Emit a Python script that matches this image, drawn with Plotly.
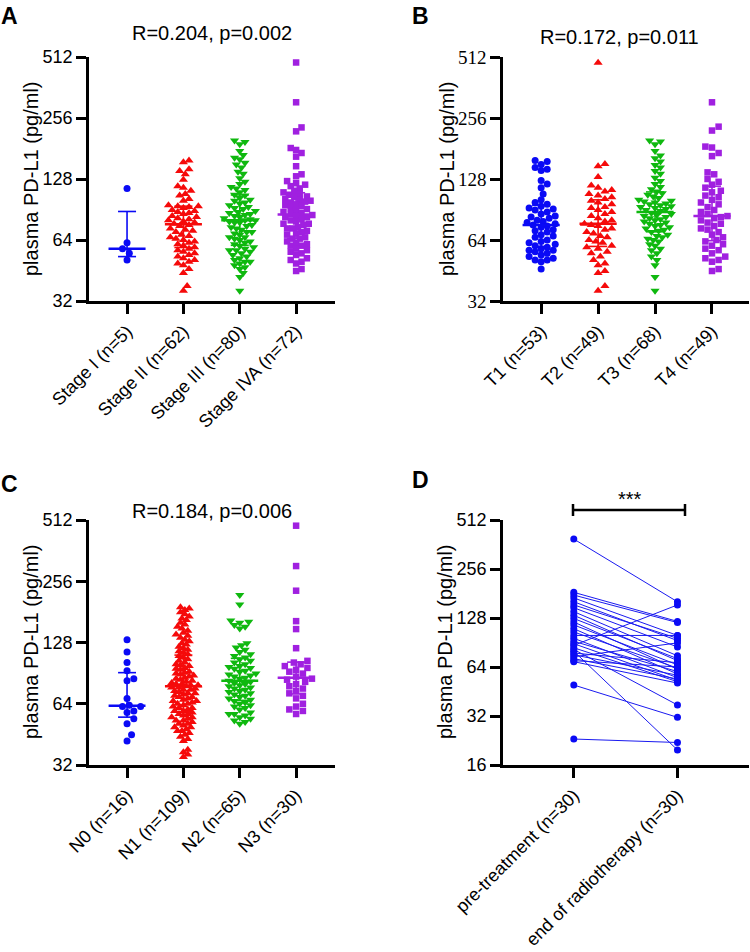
import numpy as np
import plotly.graph_objects as go

W, H = 750, 952

# ---- panel A: clinical stage ----
stage_labels = ["Stage I (n=5)", "Stage II (n=62)", "Stage III (n=80)", "Stage IVA (n=72)"]
stage_i = [115, 62, 58, 55, 51]
stage_ii = [158, 155, 143, 140, 135, 127, 118, 116, 112, 108, 106, 102, 100, 95, 94, 94, 93, 92, 90, 89,
            88, 87, 86, 84, 83, 82, 81, 80, 79, 78, 77, 76, 75, 73, 72, 71, 70, 68, 67, 66,
            65, 64, 63, 62, 61, 60, 59, 58, 57, 56, 55, 54, 53, 52, 51, 50, 49, 48, 46, 44, 38, 36]
stage_iii = [198, 195, 190, 176, 168, 163, 160, 154, 151, 146, 139, 136, 129, 124, 121, 117, 115, 113, 110, 107,
             106, 103, 101, 100, 98, 97, 95, 93, 92, 91, 89, 88, 87, 86, 85, 84, 83, 82, 81, 80,
             80, 79, 78, 78, 76, 75, 74, 73, 72, 70, 70, 69, 68, 66, 66, 65, 64, 63, 62, 61,
             60, 59, 58, 57, 57, 56, 55, 54, 53, 52, 51, 50, 50, 49, 48, 47, 46, 44, 42, 36]
stage_iva = [481, 306, 230, 220, 182, 178, 172, 165, 148, 135, 132, 125, 122, 120, 118, 115, 112, 110, 108, 107,
             105, 104, 102, 101, 100, 99, 98, 96, 95, 94, 92, 91, 90, 88, 87, 86, 85, 84, 83, 83,
             81, 80, 79, 77, 77, 76, 74, 73, 73, 71, 70, 69, 68, 66, 65, 65, 63, 62, 61, 60,
             60, 58, 57, 56, 55, 54, 52, 51, 50, 49, 46, 45]

# ---- panel B: T stage ----
t_labels = ["T1 (n=53)", "T2 (n=49)", "T3 (n=68)", "T4 (n=49)"]
t1 = [158, 156, 151, 146, 143, 141, 126, 121, 116, 108, 101, 98, 96, 94, 92, 91, 90, 88, 86, 84,
      83, 82, 80, 79, 78, 77, 76, 75, 74, 72, 71, 70, 68, 67, 66, 64, 63, 62, 61, 60,
      59, 58, 57, 57, 56, 55, 54, 53, 52, 51, 51, 50, 46]
t2 = [480, 152, 148, 131, 119, 116, 113, 111, 108, 106, 104, 102, 100, 98, 96, 93, 92, 90, 88, 86,
      84, 82, 80, 79, 77, 76, 75, 73, 72, 70, 69, 67, 66, 64, 63, 62, 60, 59, 58, 56,
      55, 53, 51, 49, 48, 45, 44, 38, 36]
t3 = [198, 196, 190, 176, 167, 162, 156, 150, 146, 140, 136, 130, 125, 121, 117, 114, 111, 109, 107, 105,
      103, 101, 100, 99, 98, 97, 96, 95, 94, 93, 92, 91, 90, 89, 87, 86, 85, 84, 83, 82,
      81, 80, 79, 78, 77, 76, 75, 74, 73, 72, 71, 70, 68, 67, 66, 65, 64, 63, 61, 60,
      58, 57, 55, 53, 51, 48, 42, 36]
t4 = [306, 232, 222, 185, 183, 172, 166, 138, 135, 128, 124, 120, 116, 112, 110, 106, 104, 101, 98, 96,
      93, 90, 88, 86, 84, 83, 82, 80, 78, 77, 75, 73, 72, 70, 68, 66, 64, 63, 61, 60,
      58, 57, 55, 53, 52, 51, 50, 46, 45]

# ---- panel C: N stage ----
n_labels = ["N0 (n=16)", "N1 (n=109)", "N2 (n=65)", "N3 (n=30)"]
n0 = [132, 115, 102, 93, 85, 83, 68, 63, 62, 62, 59, 58, 54, 51, 45, 42]
n1 = [191, 188, 185, 180, 176, 172, 168, 165, 160, 157, 153, 150, 146, 143, 140, 138, 135, 132, 130, 127,
      125, 122, 120, 118, 116, 114, 112, 110, 108, 106, 104, 102, 100, 99, 98, 96, 95, 94, 92, 91,
      90, 89, 88, 87, 86, 85, 84, 83, 82, 81, 80, 80, 79, 79, 78, 77, 77, 76, 75, 75,
      74, 73, 72, 72, 71, 70, 69, 69, 68, 67, 66, 66, 65, 64, 64, 63, 62, 61, 61, 60,
      59, 59, 58, 57, 57, 56, 55, 55, 54, 53, 53, 52, 51, 51, 50, 49, 49, 48, 47, 47,
      46, 45, 44, 43, 42, 38, 37, 36, 35]
n2 = [219, 197, 164, 162, 160, 156, 153, 150, 127, 124, 121, 118, 115, 112, 110, 108, 106, 104, 102, 100,
      98, 97, 96, 95, 93, 92, 90, 89, 88, 87, 86, 85, 83, 82, 81, 80, 79, 78, 77, 76,
      75, 74, 73, 72, 71, 70, 69, 68, 67, 66, 65, 64, 63, 62, 61, 60, 58, 57, 57, 56,
      55, 54, 53, 52, 51]
n3 = [480, 304, 230, 163, 149, 120, 104, 102, 100, 98, 96, 94, 92, 90, 87, 85, 84, 82, 80, 78,
      76, 74, 72, 70, 68, 64, 62, 60, 59, 57]

# ---- panel D: paired samples ----
d_labels = ["pre-treatment (n=30)", "end of radiotherapy (n=30)"]
pre = [391, 184, 177, 170, 161, 154, 148, 140, 133, 127, 121, 116, 110, 105, 100,
       96, 92, 89, 87, 84, 82, 80, 78, 76, 74, 72, 70, 69, 49.6, 23.1]
post = [161, 122, 120, 100, 93, 96, 85, 75, 70, 72, 62, 66, 58, 63, 100,
        55, 60, 53, 154, 52, 37.4, 19.8, 68, 57, 90, 54, 64, 51, 31.4, 22.0]

colors = ["#0a0af5", "#f50a0a", "#0fb80f", "#a020e0"]
symbols = ["circle", "triangle-up", "triangle-down", "square"]
sizes = [7, 8, 8, 6.5]
FONT = "Liberation Sans, Arial, sans-serif"


def xd(a, b):
    return [a / W, b / W]


def yd(top, bottom):
    return [1 - bottom / H, 1 - top / H]


def swarm_px(ys, dot):
    xs = np.zeros(len(ys))
    placed = []
    step = dot / 3
    for i in np.argsort(ys):
        y = ys[i]
        near = [(px, py) for px, py in placed if abs(py - y) < dot]
        for k in range(400):
            off = ((k + 1) // 2) * step * (1 if k % 2 else -1)
            if all((off - px) ** 2 + (y - py) ** 2 >= dot ** 2 for px, py in near):
                break
        placed.append((off, y))
        xs[i] = off
    return xs


def swarm(vals, ppo, ppu, max_half=16.5):
    # beeswarm in pixel space, squeezed so each column stays about 38 px wide
    ys = np.log2(np.array(vals, float)) * ppo
    dot = 6.8
    while True:
        xs = swarm_px(ys, dot)
        if np.abs(xs).max() <= max_half or dot < 3:
            break
        dot -= 0.2
    return xs / ppu


fig = go.Figure()

panels = [
    ("x", "y", [stage_i, stage_ii, stage_iii, stage_iva], 61, 56.3),
    ("x2", "y2", [t1, t2, t3, t4], 61, 56.7),
    ("x3", "y3", [n0, n1, n2, n3], 61.25, 56.5),
]

for xa, ya, groups, ppo, ppu in panels:
    for g, vals in enumerate(groups):
        off = swarm(vals, ppo, ppu)
        fig.add_trace(go.Scatter(
            x=g + off, y=vals, mode="markers", xaxis=xa, yaxis=ya, cliponaxis=False,
            marker=dict(symbol=symbols[g], size=sizes[g], color=colors[g], line=dict(width=0)),
            showlegend=False, hoverinfo="y"))
        q1, med, q3 = np.percentile(vals, [25, 50, 75], method="weibull")
        hw, cw = 18.5 / ppu, 9 / ppu
        fig.add_trace(go.Scatter(
            x=[g - hw, g + hw], y=[med, med], mode="lines", xaxis=xa, yaxis=ya,
            line=dict(color=colors[g], width=2.5), showlegend=False, hoverinfo="skip"))
        fig.add_trace(go.Scatter(
            x=[g, g, None, g - cw, g + cw, None, g - cw, g + cw],
            y=[q1, q3, None, q1, q1, None, q3, q3], mode="lines", xaxis=xa, yaxis=ya,
            line=dict(color=colors[g], width=1.6), showlegend=False, hoverinfo="skip"))

# paired lines
px, py = [], []
for a, b in zip(pre, post):
    px += [0, 1, None]
    py += [a, b, None]
fig.add_trace(go.Scatter(
    x=px, y=py, mode="lines+markers", xaxis="x4", yaxis="y4", cliponaxis=False,
    line=dict(color="#1a1af0", width=1), marker=dict(color="#0a0af5", size=7),
    showlegend=False))

axis_common = dict(showline=True, linecolor="black", linewidth=2.5, ticks="outside",
                   ticklen=10, tickwidth=2.5, tickcolor="black", showgrid=False,
                   zeroline=False, automargin=False,
                   tickfont=dict(family=FONT, size=18, color="black"))

yt = [32, 64, 128, 256, 512]
fig.update_layout(
    width=W, height=H, margin=dict(l=0, r=0, t=0, b=0, autoexpand=False),
    paper_bgcolor="white", plot_bgcolor="white", showlegend=False,
    xaxis=dict(domain=xd(89, 335), range=[-0.675, 3.69], tickvals=[0, 1, 2, 3],
               ticktext=stage_labels, tickangle=-45, anchor="y", **axis_common),
    yaxis=dict(domain=yd(57, 301), type="log", range=[np.log10(32), np.log10(512)],
               tickvals=yt, ticktext=[str(v) for v in yt], anchor="x", **axis_common),
    xaxis2=dict(domain=xd(503, 749), range=[-0.67, 3.65], tickvals=[0, 1, 2, 3],
                ticktext=t_labels, tickangle=-45, anchor="y2", **axis_common),
    yaxis2=dict(domain=yd(57, 301), type="log", range=[np.log10(32), np.log10(512)],
                tickvals=yt, ticktext=[str(v) for v in yt], anchor="x2",
                **{**axis_common, "tickfont": dict(family="Liberation Serif, Times New Roman, serif",
                                                   size=19, color="black")}),
    xaxis3=dict(domain=xd(89, 335), range=[-0.675, 3.69], tickvals=[0, 1, 2, 3],
                ticktext=n_labels, tickangle=-45, anchor="y3", **axis_common),
    yaxis3=dict(domain=yd(520, 765), type="log", range=[np.log10(32), np.log10(512)],
                tickvals=yt, ticktext=[str(v) for v in yt], anchor="x3", **axis_common),
    xaxis4=dict(domain=xd(503, 749), range=[-0.683, 1.69], tickvals=[0, 1],
                ticktext=d_labels, tickangle=-45, anchor="y4", **axis_common),
    yaxis4=dict(domain=yd(520, 765), type="log", range=[np.log10(16), np.log10(512)],
                tickvals=[16] + yt, ticktext=[str(v) for v in [16] + yt], anchor="x4",
                **axis_common),
)


def note(text, x, y, size, angle=0):
    fig.add_annotation(text=text, x=x / W, y=1 - y / H, xref="paper", yref="paper",
                       xanchor="center", yanchor="middle", showarrow=False, textangle=angle,
                       font=dict(family=FONT, size=size, color="black"))


for letter, lx, ly in [("A", 9, 16), ("B", 420, 16), ("C", 9, 484), ("D", 420, 480)]:
    note("<b>%s</b>" % letter, lx, ly, 23)

note("R=0.204, p=0.002", 212, 33, 20)
note("R=0.172, p=0.011", 619, 37, 20)
note("R=0.184, p=0.006", 212, 511, 20)

ylab = "plasma PD-L1 (pg/ml)"
note(ylab, 31, 179, 20, -90)
note(ylab, 447, 179, 20, -90)
note(ylab, 31, 642, 20, -90)
note(ylab, 445, 642, 20, -90)

# significance bracket in panel D
note("***", 630, 499, 20)
fig.add_shape(type="path", xref="paper", yref="paper",
              path="M %f %f L %f %f M %f %f L %f %f M %f %f L %f %f" % (
                  573 / W, 1 - 504 / H, 573 / W, 1 - 516 / H,
                  573 / W, 1 - 510 / H, 685 / W, 1 - 510 / H,
                  685 / W, 1 - 504 / H, 685 / W, 1 - 516 / H),
              line=dict(color="black", width=2.5))

fig.write_html("out.html", config={"displayModeBar": False},
               post_script="document.body.style.margin='0px';")
